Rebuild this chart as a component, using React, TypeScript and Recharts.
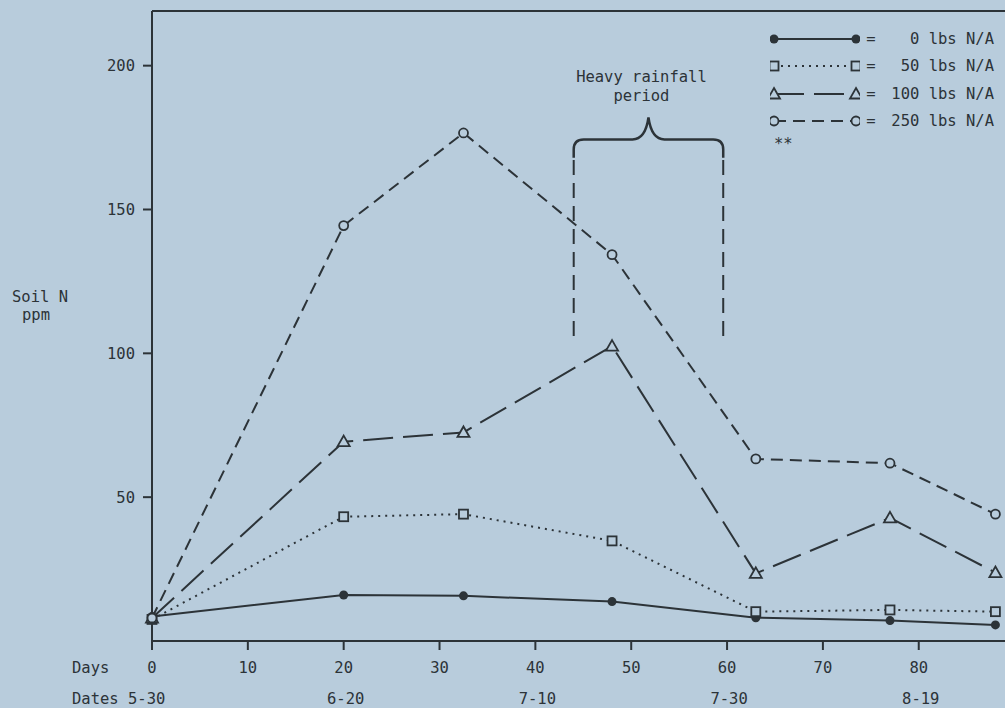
import React from "react"
import {
  LineChart,
  Line,
  XAxis,
  YAxis,
  Legend,
  ReferenceLine,
  ReferenceArea,
} from "recharts"

const days = [0, 20, 32.5, 48, 63, 77, 88]
const n0 = [8.5, 16, 15.7, 13.7, 8.1, 7.1, 5.6]
const n50 = [7.5, 43.2, 44.1, 34.8, 10.2, 10.8, 10.2]
const n100 = [8, 69.3, 72.5, 102.5, 23.5, 42.8, 23.8]
const n250 = [8, 144.4, 176.6, 134.3, 63.3, 61.8, 44.1]

const dayTicks = [0, 10, 20, 30, 40, 50, 60, 70, 80]
const dateTicks = [0, 20, 40, 60, 80]
const dateLabels = ["5-30", "6-20", "7-10", "7-30", "8-19"]
const ppmTicks = [50, 100, 150, 200]

const seriesKeys = ["n0", "n50", "n100", "n250"]
const seriesNames = ["0 lbs N/A", "50 lbs N/A", "100 lbs N/A", "250 lbs N/A"]
const seriesMarks = ["dot", "square", "triangle", "circle"]
const seriesDash = ["", "2 5", "30 10", "12 7"]

// heavy rainfall window (days) and brace height (ppm)
const rainStart = 44
const rainEnd = 59.6
const rainDashLow = 106
const rainDashHigh = 168
const braceTop = 182

const data = days.map((d, i) => ({
  day: d,
  n0: n0[i],
  n50: n50[i],
  n100: n100[i],
  n250: n250[i],
}))

const BG = "#b8ccdc"
const INK = "#2c3338"
const FONT = "'DejaVu Sans Mono', monospace"

function Marker({ kind, cx, cy }: { kind: string; cx: number; cy: number }) {
  if (kind === "dot") return <circle cx={cx} cy={cy} r={4.5} fill={INK} />
  if (kind === "square")
    return <rect x={cx - 4.5} y={cy - 4.5} width={9} height={9} fill={BG} stroke={INK} strokeWidth={1.8} />
  if (kind === "triangle")
    return (
      <path
        d={`M${cx},${cy - 6} L${cx + 6},${cy + 4.5} L${cx - 6},${cy + 4.5} Z`}
        fill={BG}
        stroke={INK}
        strokeWidth={1.8}
      />
    )
  return <circle cx={cx} cy={cy} r={4.5} fill={BG} stroke={INK} strokeWidth={1.8} />
}

function makeDot(kind: string) {
  return (props: any) => {
    const { cx, cy, index } = props
    if (cx == null || cy == null) return <g key={index} />
    return <Marker key={index} kind={kind} cx={cx} cy={cy} />
  }
}

function DayTick(props: any) {
  const { x, y, payload } = props
  const v = payload.value
  const di = dateTicks.indexOf(v)
  return (
    <g>
      <text x={x} y={y + 19} textAnchor="middle" fill={INK} fontFamily={FONT} fontSize={15.5}>
        {v}
      </text>
      {v === 0 && (
        <text x={x - 80} y={y + 19} textAnchor="start" fill={INK} fontFamily={FONT} fontSize={15.5}>
          Days
        </text>
      )}
      {di >= 0 &&
        (v === 0 ? (
          <text x={x - 80} y={y + 50} textAnchor="start" fill={INK} fontFamily={FONT} fontSize={15.5}>
            {"Dates " + dateLabels[di]}
          </text>
        ) : (
          <text x={x + 2} y={y + 50} textAnchor="middle" fill={INK} fontFamily={FONT} fontSize={15.5}>
            {dateLabels[di]}
          </text>
        ))}
    </g>
  )
}

function Brace(props: any) {
  const { x, y, width, height } = props
  const right = x + width
  const bottom = y + height
  const mid = y + 22
  const cx = x + width / 2
  const d = [
    `M${x},${bottom}`,
    `L${x},${mid + 10}`,
    `Q${x},${mid} ${x + 10},${mid}`,
    `L${cx - 16},${mid}`,
    `Q${cx - 3},${mid} ${cx},${y}`,
    `Q${cx + 3},${mid} ${cx + 16},${mid}`,
    `L${right - 10},${mid}`,
    `Q${right},${mid} ${right},${mid + 10}`,
    `L${right},${bottom}`,
  ].join(" ")
  return (
    <g>
      <path d={d} fill="none" stroke={INK} strokeWidth={2.5} />
      <text x={cx - 7} y={y - 35} textAnchor="middle" fill={INK} fontFamily={FONT} fontSize={15.5}>
        Heavy rainfall
      </text>
      <text x={cx - 7} y={y - 16} textAnchor="middle" fill={INK} fontFamily={FONT} fontSize={15.5}>
        period
      </text>
    </g>
  )
}

function LegendBox() {
  return (
    <div style={{ fontFamily: FONT, fontSize: 15.5, color: INK }}>
      {seriesKeys.map((k, i) => (
        <div key={k} style={{ display: "flex", alignItems: "center", height: 27.5 }}>
          <svg width={90} height={16}>
            <line
              x1={4}
              x2={86}
              y1={8}
              y2={8}
              stroke={INK}
              strokeWidth={2}
              strokeDasharray={seriesDash[i] || undefined}
            />
            <Marker kind={seriesMarks[i]} cx={4} cy={8} />
            <Marker kind={seriesMarks[i]} cx={86} cy={8} />
          </svg>
          <span style={{ width: 22, textAlign: "center" }}>=</span>
          <span style={{ flex: 1, textAlign: "right", whiteSpace: "pre" }}>{seriesNames[i]}</span>
        </div>
      ))}
      <div style={{ height: 24, paddingLeft: 4 }}>**</div>
    </div>
  )
}

function YLabel(props: any) {
  const { viewBox } = props
  const x = viewBox.x
  const y = viewBox.y
  return (
    <g>
      <text x={x + 12} y={y + 291} fill={INK} fontFamily={FONT} fontSize={15.5}>
        Soil N
      </text>
      <text x={x + 22} y={y + 309} fill={INK} fontFamily={FONT} fontSize={15.5}>
        ppm
      </text>
    </g>
  )
}

export default function App() {
  return (
    <div style={{ position: "absolute", left: 0, top: 0, width: 1005, height: 708, background: BG }}>
      <LineChart width={1005} height={708} data={data} margin={{ top: 11, right: 0, bottom: 0, left: 0 }}>
        <XAxis
          type="number"
          dataKey="day"
          domain={[0, 89]}
          ticks={dayTicks}
          height={67}
          tickSize={9}
          tickMargin={4}
          stroke={INK}
          strokeWidth={2}
          tick={<DayTick />}
        />
        <YAxis
          type="number"
          domain={[0, 219]}
          ticks={ppmTicks}
          width={152}
          tickSize={9}
          tickMargin={8}
          stroke={INK}
          strokeWidth={2}
          tick={{ fill: INK, fontFamily: FONT, fontSize: 15.5 }}
          label={{ content: <YLabel /> }}
        />
        <ReferenceLine y={219} stroke={INK} strokeWidth={2} />
        <ReferenceLine
          segment={[
            { x: rainStart, y: rainDashLow },
            { x: rainStart, y: rainDashHigh },
          ]}
          stroke={INK}
          strokeWidth={2}
          strokeDasharray="15 8"
        />
        <ReferenceLine
          segment={[
            { x: rainEnd, y: rainDashLow },
            { x: rainEnd, y: rainDashHigh },
          ]}
          stroke={INK}
          strokeWidth={2}
          strokeDasharray="15 8"
        />
        <ReferenceArea x1={rainStart} x2={rainEnd} y1={rainDashHigh} y2={braceTop} shape={<Brace />} />
        {seriesKeys.map((k, i) => (
          <Line
            key={k}
            type="linear"
            dataKey={k}
            name={seriesNames[i]}
            stroke={INK}
            strokeWidth={2}
            strokeDasharray={seriesDash[i] || undefined}
            dot={makeDot(seriesMarks[i])}
            activeDot={false}
            isAnimationActive={false}
          />
        ))}
        <Legend
          layout="horizontal"
          verticalAlign="middle"
          align="center"
          content={<LegendBox />}
          wrapperStyle={{ left: 770, top: 25, width: 224 }}
        />
      </LineChart>
    </div>
  )
}
